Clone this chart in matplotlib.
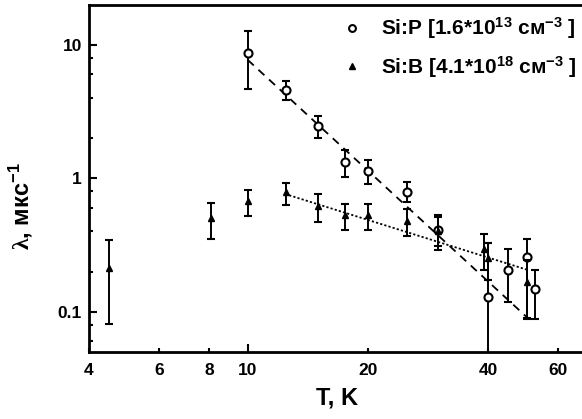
import numpy as np
import matplotlib
matplotlib.use("Agg")
import matplotlib.pyplot as plt
from matplotlib.ticker import FixedLocator, FixedFormatter, NullFormatter

plt.rcParams['font.family'] = ['Liberation Sans', 'DejaVu Sans']
plt.rcParams['font.weight'] = 'bold'
plt.rcParams['axes.labelweight'] = 'bold'
plt.rcParams['mathtext.fontset'] = 'custom'
plt.rcParams['mathtext.rm'] = 'Liberation Serif'
plt.rcParams['mathtext.bf'] = 'Liberation Sans:bold'
plt.rcParams['mathtext.default'] = 'bf'

# Si:P  (open circles)
p_T = [10, 12.5, 15, 17.5, 20, 25, 30, 40, 45, 50, 52.5]
p_lam = [8.7, 4.6, 2.45, 1.33, 1.14, 0.79, 0.41, 0.128, 0.207, 0.257, 0.147]
p_lo = [4.7, 3.84, 2.02, 1.02, 0.90, 0.66, 0.29, 0.0, 0.118, 0.089, 0.089]
p_hi = [12.6, 5.33, 2.93, 1.62, 1.36, 0.94, 0.53, 0.33, 0.294, 0.353, 0.207]

# Si:B  (triangles)
b_T = [4.5, 8.1, 10, 12.5, 15, 17.5, 20, 25, 30, 39, 40, 50]
b_lam = [0.214, 0.50, 0.676, 0.79, 0.62, 0.535, 0.535, 0.48, 0.40, 0.297, 0.253, 0.167]
b_lo = [0.081, 0.353, 0.522, 0.628, 0.47, 0.413, 0.413, 0.368, 0.31, 0.207, 0.174, 0.09]
b_hi = [0.343, 0.653, 0.823, 0.92, 0.76, 0.646, 0.646, 0.586, 0.51, 0.385, 0.328, 0.245]

# fit lines (end points)
fit_p_T = [10, 50]
fit_p_lam = [7.7, 0.0914]
fit_b_T = [12.7, 50]
fit_b_lam = [0.746, 0.207]

p_label = 'Si:P [1.6*10$^{13}$ см$^{-3}$ ]'
b_label = 'Si:B [4.1*10$^{18}$ см$^{-3}$ ]'

x_ticks = [4, 6, 8, 20, 40, 60]
y_minor = [0.06, 0.08, 0.2, 0.4, 0.6, 0.8, 2, 4, 6, 8]

fig = plt.figure(figsize=(5.82, 4.19), dpi=100)
ax = fig.add_axes([0.153, 0.16, 0.852, 0.829])
ax.set_xscale('log')
ax.set_yscale('log')

ax.plot(fit_p_T, fit_p_lam, color='black', lw=1.3, dashes=(4.5, 3.5))
ax.plot(fit_b_T, fit_b_lam, color='black', lw=1.3, dashes=(1.2, 1.2))

p_lam_a = np.array(p_lam)
b_lam_a = np.array(b_lam)
p_err = [p_lam_a - np.array(p_lo), np.array(p_hi) - p_lam_a]
b_err = [b_lam_a - np.array(b_lo), np.array(b_hi) - b_lam_a]

ax.errorbar(p_T, p_lam, yerr=p_err, fmt='none', ecolor='black', elinewidth=1.4, capsize=3, capthick=1.5)
ax.plot(p_T, p_lam, 'o', ms=5.8, mfc='white', mec='black', mew=1.5, ls='none', label=p_label)
ax.errorbar(b_T, b_lam, yerr=b_err, fmt='none', ecolor='black', elinewidth=1.4, capsize=3, capthick=1.5)
ax.plot(b_T, b_lam, '^', ms=4.5, color='black', ls='none', label=b_label)

ax.set_xlim(4, 70)
ax.set_ylim(0.05, 20)

ax.xaxis.set_major_locator(FixedLocator([10]))
ax.xaxis.set_major_formatter(FixedFormatter(['10']))
ax.xaxis.set_minor_locator(FixedLocator(x_ticks))
ax.xaxis.set_minor_formatter(FixedFormatter([str(t) for t in x_ticks]))
ax.yaxis.set_major_locator(FixedLocator([0.1, 1, 10]))
ax.yaxis.set_major_formatter(FixedFormatter(['0.1', '1', '10']))
ax.yaxis.set_minor_locator(FixedLocator(y_minor))
ax.yaxis.set_minor_formatter(NullFormatter())

ax.tick_params(which='both', direction='in', width=1.5, labelsize=12.5, top=False, right=False)
ax.tick_params(which='major', length=6, pad=5)
ax.tick_params(which='minor', length=3, pad=5)
ax.tick_params(axis='x', which='both', pad=8)

for s in ['left', 'bottom', 'top']:
    ax.spines[s].set_linewidth(2)
ax.spines['right'].set_visible(False)

ax.set_xlabel('T, K', fontsize=17, labelpad=6)
ax.set_ylabel(r'$\mathrm{\lambda}$, мкс$^{-1}$', fontsize=17)
ax.yaxis.set_label_coords(-0.11, 0.42)

ax.legend(loc='upper right', bbox_to_anchor=(1.012, 0.993), bbox_transform=fig.transFigure,
          frameon=False, fontsize=15, handlelength=0.8, handletextpad=1.0,
          labelspacing=0.6, markerscale=0.85, borderaxespad=0.2)

fig.savefig('out.png', dpi=100)
